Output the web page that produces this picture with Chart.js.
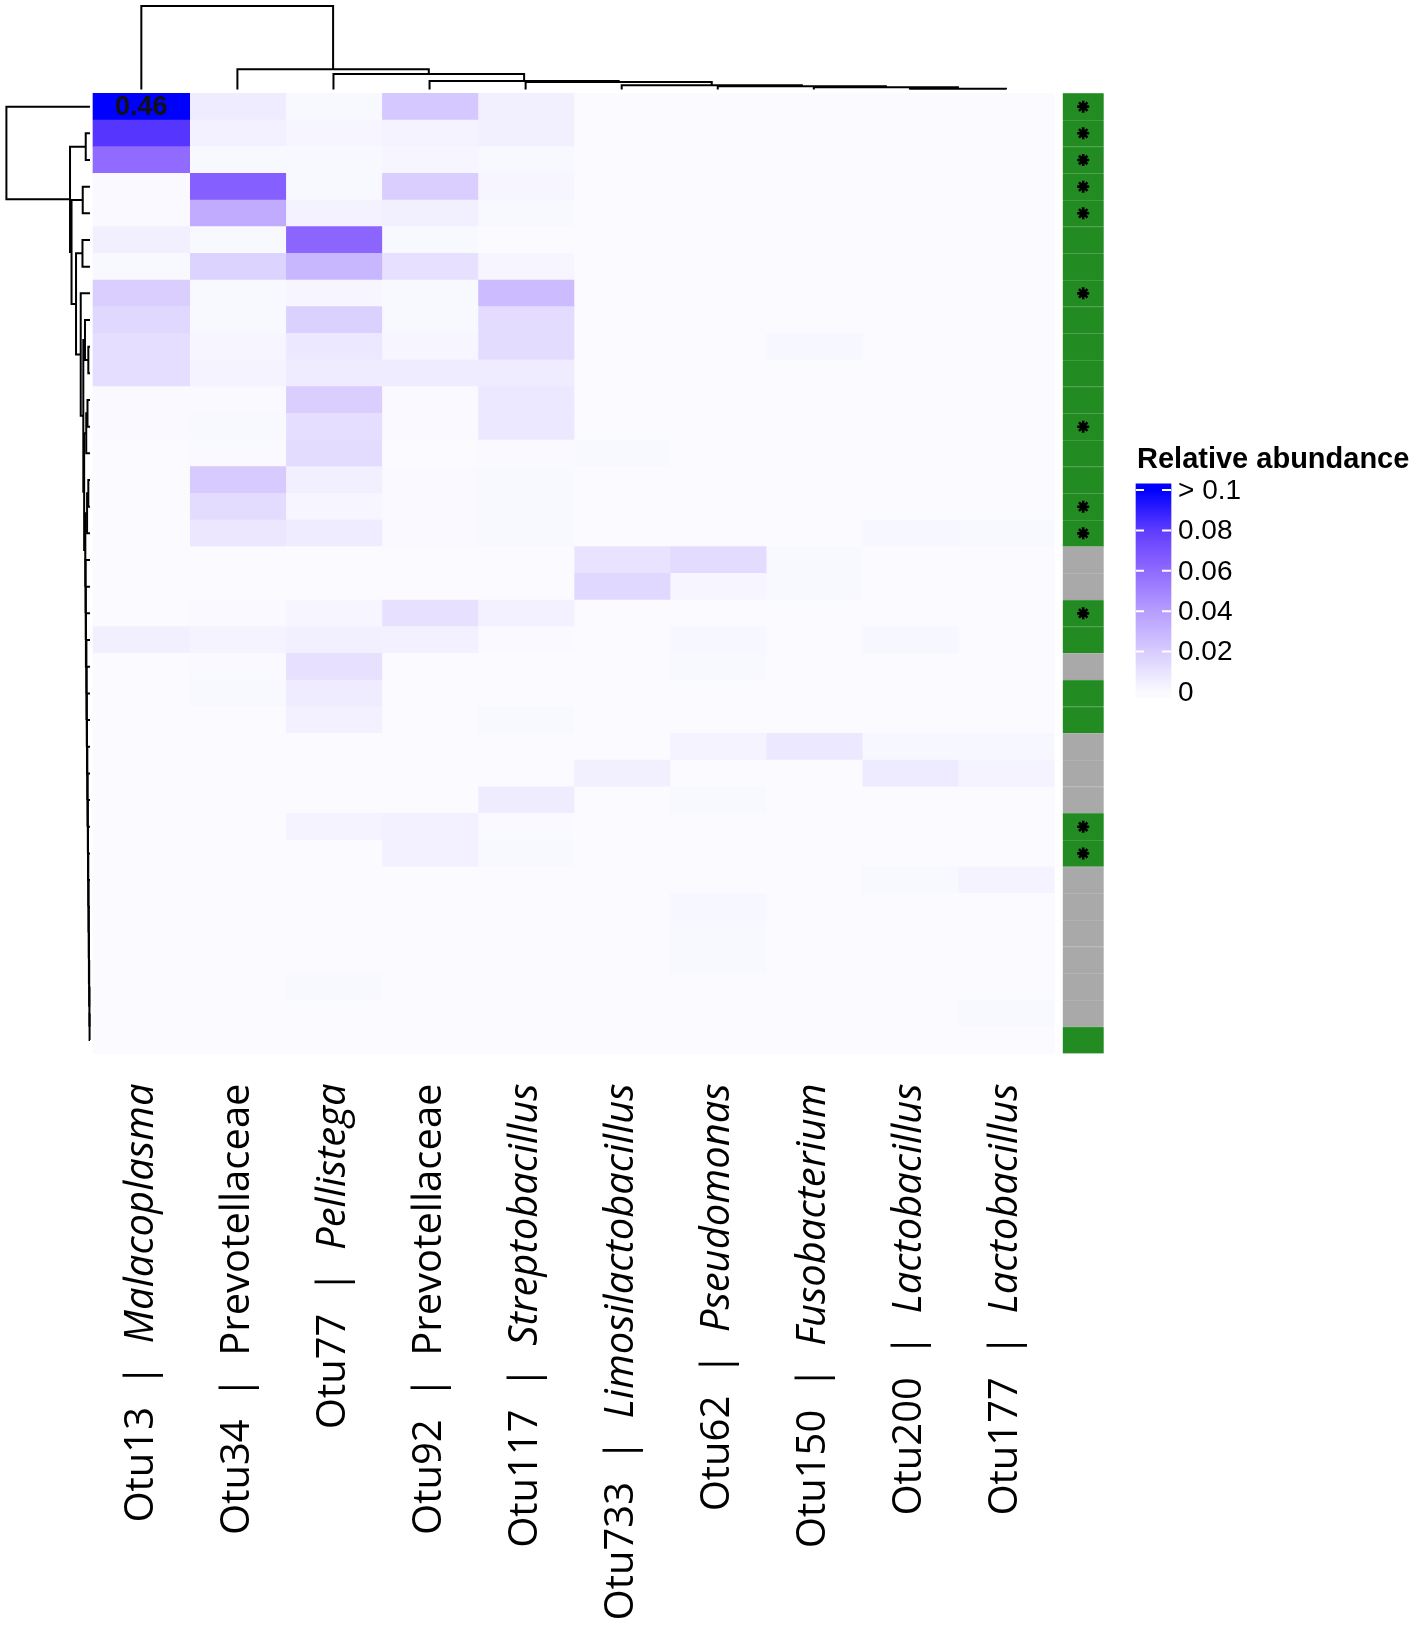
<!DOCTYPE html>
<html>
<head>
<meta charset="utf-8">
<title>Relative abundance heatmap</title>
<script src="https://cdn.jsdelivr.net/npm/chart.js@4.4.1/dist/chart.umd.min.js"></script>
<style>
  html, body { margin: 0; padding: 0; background: #fff; }
  canvas { display: block; }
</style>
</head>
<body>
<canvas id="heatmap" width="1417" height="1625" style="width:1417px;height:1625px"></canvas>
<script>
// ---- data ----
const otuIds = ['Otu13', 'Otu34', 'Otu77', 'Otu92', 'Otu117', 'Otu733', 'Otu62', 'Otu150', 'Otu200', 'Otu177'];
const taxa = ['Malacoplasma', 'Prevotellaceae', 'Pellistega', 'Prevotellaceae', 'Streptobacillus',
              'Limosilactobacillus', 'Pseudomonas', 'Fusobacterium', 'Lactobacillus', 'Lactobacillus'];
const taxonIsGenus = [true, false, true, false, true, true, true, true, true, true];

// relative abundance per OTU, rows 1..36 top to bottom
const otu13  = [0.46, 0.082, 0.060, 0.0005, 0.0005, 0.005, 0.001, 0.019, 0.015, 0.012, 0.012, 0.0005, 0.0005,
                0, 0, 0, 0, 0, 0, 0, 0.005, 0, 0, 0, 0, 0, 0, 0, 0, 0, 0, 0, 0, 0, 0, 0];
const otu34  = [0.006, 0.004, 0.001, 0.065, 0.034, 0.001, 0.017, 0.001, 0.001, 0.002, 0.003, 0.0005, 0.001,
                0.0005, 0.021, 0.013, 0.0085, 0, 0, 0.0005, 0.003, 0.0005, 0.001, 0, 0, 0, 0, 0, 0, 0, 0, 0, 0, 0, 0, 0];
const otu77  = [0.001, 0.002, 0.001, 0.001, 0.0035, 0.062, 0.029, 0.002, 0.018, 0.008, 0.006, 0.019, 0.012,
                0.013, 0.005, 0.002, 0.006, 0, 0, 0.002, 0.0045, 0.011, 0.006, 0.004, 0, 0, 0, 0.003, 0, 0, 0, 0, 0, 0.001, 0, 0];
const otu92  = [0.022, 0.003, 0.002, 0.019, 0.0045, 0.001, 0.011, 0.001, 0.001, 0.002, 0.006, 0.0005, 0.0005,
                0, 0.0005, 0.0005, 0.0005, 0, 0, 0.011, 0.004, 0, 0, 0, 0, 0, 0, 0.004, 0.004, 0, 0, 0, 0, 0, 0, 0];
const otu117 = [0.0045, 0.0045, 0.001, 0.002, 0.001, 0, 0.002, 0.027, 0.013, 0.013, 0.006, 0.008, 0.008,
                0.0005, 0.001, 0.001, 0.001, 0, 0, 0.004, 0.0005, 0, 0, 0.001, 0, 0, 0.006, 0.0005, 0.001, 0, 0, 0, 0, 0, 0, 0];
const otu733 = [0, 0, 0, 0, 0, 0, 0, 0, 0, 0, 0, 0, 0, 0.001, 0, 0, 0, 0.010, 0.015,
                0, 0, 0, 0, 0, 0, 0.005, 0, 0, 0, 0, 0, 0, 0, 0, 0, 0];
const otu62  = [0, 0, 0, 0, 0, 0, 0, 0, 0, 0, 0, 0, 0, 0, 0, 0, 0, 0.013, 0.002,
                0, 0.0015, 0.001, 0, 0, 0.003, 0, 0.001, 0, 0, 0, 0.0015, 0.001, 0.001, 0, 0, 0];
const otu150 = [0, 0, 0, 0, 0, 0, 0, 0, 0, 0.0015, 0, 0, 0, 0, 0, 0, 0, 0.001, 0.001,
                0, 0, 0, 0, 0, 0.008, 0, 0, 0, 0, 0, 0, 0, 0, 0, 0, 0];
const otu200 = [0, 0, 0, 0, 0, 0, 0, 0, 0, 0, 0, 0, 0, 0, 0, 0, 0.0015, 0, 0,
                0, 0.0015, 0, 0, 0, 0.0015, 0.007, 0, 0, 0, 0.001, 0, 0, 0, 0, 0, 0];
const otu177 = [0, 0, 0, 0, 0, 0, 0, 0, 0, 0, 0, 0, 0, 0, 0, 0, 0.001, 0, 0,
                0, 0, 0, 0, 0, 0.0015, 0.003, 0, 0, 0, 0.003, 0, 0, 0, 0, 0.001, 0];
const abundance = [otu13, otu34, otu77, otu92, otu117, otu733, otu62, otu150, otu200, otu177];

// row annotation (1 = green class, 0 = grey class) and rows marked with *
const rowAnnotation = [1, 1, 1, 1, 1, 1, 1, 1, 1, 1, 1, 1, 1, 1, 1, 1, 1, 0, 0, 1, 1, 0, 1, 1, 0, 0, 0, 1, 1,
                       0, 0, 0, 0, 0, 0, 1];
const starredRows = [1, 2, 3, 4, 5, 8, 13, 16, 17, 20, 28, 29];

// column dendrogram, hclust style merges (negative = leaf), heights relative to the root
const colMergeLeft   = [-9, -8, -7, -6, -5, -4, -3, -2, -1];
const colMergeRight  = [-10, 1, 2, 3, 4, 5, 6, 7, 8];
const colMergeHeight = [0.010, 0.026, 0.038, 0.050, 0.090, 0.102, 0.186, 0.242, 1.0];

// row dendrogram
const rowMergeLeft   = [-35, -34, -33, -32, -31, -30, -29, -28, -27, -26, -25, -24, -23, -22, -21, -20, -19, -18,
                        -15, 19, 20, -12, 22, 23, -10, -9, 26, -8, -6, 29, -4, 31, -2, 33, -1];
const rowMergeRight  = [-36, 1, 2, 3, 4, 5, 6, 7, 8, 9, 10, 11, 12, 13, 14, 15, 16, 17,
                        -16, -17, 18, -13, -14, 21, -11, 25, 24, 27, -7, 28, -5, 30, -3, 32, 34];
const rowMergeHeight = [0.005, 0.008, 0.011, 0.013, 0.016, 0.019, 0.022, 0.024, 0.027, 0.031, 0.033, 0.036,
                        0.040, 0.042, 0.044, 0.049, 0.051, 0.054,
                        0.020, 0.035, 0.058, 0.030, 0.045, 0.070, 0.020, 0.060, 0.080, 0.111, 0.090, 0.167,
                        0.087, 0.221, 0.051, 0.239, 1.0];

const legendTicks  = [0.1, 0.08, 0.06, 0.04, 0.02, 0];
const legendLabels = ['> 0.1', '0.08', '0.06', '0.04', '0.02', '0'];

// ---- layout (pixels) ----
const W = 1417, H = 1625;
const HM_LEFT = 93.3, HM_TOP = 93.3, COL_W = 96.07, ROW_H = 26.67;
const ANN_CENTER = 1083.2, ANN_W = 41;
const LEG_CENTER = 1153.5, LEG_W = 35;
const COLOUR_MAX = 0.1;
const colourStops = [
  [0,    [250, 250, 255]],
  [0.02, [216, 204, 255]],
  [0.04, [181, 157, 255]],
  [0.06, [145, 106, 255]],
  [0.08, [95, 60, 255]],
  [0.1,  [0, 0, 255]]
];

function cellColour(v) {
  const t = Math.min(Math.max(v, 0), COLOUR_MAX);
  for (let i = 1; i < colourStops.length; i++) {
    const [v0, c0] = colourStops[i - 1];
    const [v1, c1] = colourStops[i];
    if (t <= v1) {
      const f = (t - v0) / (v1 - v0);
      return 'rgb(' + c0.map((c, k) => Math.round(c + (c1[k] - c) * f)).join(',') + ')';
    }
  }
  return 'rgb(0,0,255)';
}

// linear axis whose value v0 sits at pixel p0 and v1 at p1
function pinnedAxis(axis, v0, p0, v1, p1) {
  const size = axis === 'x' ? W : H;
  const k = (p1 - p0) / (v1 - v0);
  const span = size / Math.abs(k);
  const increasing = k > 0;
  let min, max;
  if (increasing) { min = v0 - p0 / k; max = min + span; }
  else { max = v0 + p0 / -k; min = max - span; }
  return {
    type: 'linear', axis, min, max, bounds: 'data', offset: false, display: false,
    reverse: axis === 'x' ? !increasing : increasing,
    grid: { display: false }, ticks: { display: false }
  };
}

// turn merges into U shaped segments: [leafPos, height] pairs
function dendroSegments(left, right, height) {
  const nodes = [], segs = [];
  const place = id => id < 0 ? { p: -id - 0.5, h: 0 } : nodes[id - 1];
  for (let i = 0; i < left.length; i++) {
    const a = place(left[i]), b = place(right[i]), h = height[i];
    segs.push([[a.p, a.h], [a.p, h], [b.p, h], [b.p, b.h]]);
    nodes.push({ p: (a.p + b.p) / 2, h });
  }
  return segs;
}

const xAnn = (ANN_CENTER - HM_LEFT) / COL_W;
const xLeg = (LEG_CENTER - HM_LEFT) / COL_W;
const nRows = otu13.length;

const datasets = [];

// asterisks
datasets.push({
  type: 'scatter',
  label: 'marked',
  data: starredRows.map(r => ({ x: xAnn, y: r - 0.5 })),
  pointStyle: 'star',
  pointRadius: 6,
  borderColor: '#000',
  backgroundColor: '#000',
  borderWidth: 2.6
});

// column dendrogram
dendroSegments(colMergeLeft, colMergeRight, colMergeHeight).forEach(seg => {
  datasets.push({
    type: 'scatter', showLine: true, yAxisID: 'dCol',
    data: seg.map(([p, h]) => ({ x: p, y: h })),
    borderColor: '#000', borderWidth: 2, pointRadius: 0, tension: 0
  });
});

// row dendrogram
dendroSegments(rowMergeLeft, rowMergeRight, rowMergeHeight).forEach(seg => {
  datasets.push({
    type: 'scatter', showLine: true, xAxisID: 'dRow',
    data: seg.map(([p, h]) => ({ x: h, y: p })),
    borderColor: '#000', borderWidth: 2, pointRadius: 0, tension: 0
  });
});

// heatmap cells, one dataset per OTU column
abundance.forEach((col, c) => {
  datasets.push({
    type: 'bar',
    label: otuIds[c],
    data: col.map((v, r) => ({ x: c + 0.5, y: [r, r + 1], v })),
    backgroundColor: col.map(cellColour),
    borderWidth: 0,
    grouped: false,
    barThickness: COL_W + 0.6
  });
});

// annotation strip
datasets.push({
  type: 'bar',
  label: 'annotation',
  data: rowAnnotation.map((a, r) => ({ x: xAnn, y: [r, r + 1] })),
  backgroundColor: rowAnnotation.map(a => a ? '#228b22' : '#a9a9a9'),
  borderColor: rowAnnotation.map(a => a ? '#4d9f4d' : '#b4b4b4'),
  borderWidth: { top: 1, right: 0, bottom: 0, left: 0 },
  borderSkipped: false,
  grouped: false,
  barThickness: ANN_W
});

// colour key
datasets.push({
  type: 'bar',
  label: 'key',
  yAxisID: 'yLeg',
  data: [{ x: xLeg, y: [-0.0025, 0.103] }],
  backgroundColor(context) {
    const chart = context.chart;
    if (!chart.chartArea) return '#fff';
    const s = chart.scales.yLeg;
    const g = chart.ctx.createLinearGradient(0, s.getPixelForValue(0), 0, s.getPixelForValue(COLOUR_MAX));
    colourStops.forEach(([v, rgb]) => g.addColorStop(v / COLOUR_MAX, 'rgb(' + rgb.join(',') + ')'));
    return g;
  },
  borderWidth: 0,
  grouped: false,
  barThickness: LEG_W
});

const textPlugin = {
  id: 'heatmapText',
  afterDatasetsDraw(chart) {
    const { ctx, scales } = chart;
    ctx.save();

    // values above the colour ceiling are printed in the cell
    ctx.fillStyle = '#111';
    ctx.font = 'bold 27px "Liberation Sans", Arial, sans-serif';
    ctx.textAlign = 'center';
    ctx.textBaseline = 'middle';
    abundance.forEach((col, c) => col.forEach((v, r) => {
      if (v > COLOUR_MAX) {
        ctx.fillText(v.toFixed(2), scales.x.getPixelForValue(c + 0.5), scales.y.getPixelForValue(r + 0.5) + 1);
      }
    }));

    // rotated column labels, end of text aligned under the heatmap
    const labelTop = scales.y.getPixelForValue(nRows) + 30;
    const regular = '40px "Open Sans", sans-serif';
    const italic = 'italic 40px "Open Sans", sans-serif';
    ctx.fillStyle = '#000';
    otuIds.forEach((id, c) => {
      ctx.save();
      ctx.translate(scales.x.getPixelForValue(c + 0.5), labelTop);
      ctx.rotate(-Math.PI / 2);
      ctx.textAlign = 'right';
      ctx.textBaseline = 'middle';
      if (taxonIsGenus[c]) {
        ctx.font = italic;
        const gw = ctx.measureText(taxa[c]).width;
        ctx.fillText(taxa[c], 0, 0);
        ctx.font = regular;
        ctx.fillText(id + '  |  ', -gw, 0);
      } else {
        ctx.font = regular;
        ctx.fillText(id + '  |  ' + taxa[c], 0, 0);
      }
      ctx.restore();
    });

    // colour key title, tick dashes and labels
    const kx0 = LEG_CENTER - LEG_W / 2, kx1 = LEG_CENTER + LEG_W / 2;
    ctx.textAlign = 'left';
    ctx.textBaseline = 'alphabetic';
    ctx.font = 'bold 29px "Liberation Sans", Arial, sans-serif';
    ctx.fillText('Relative abundance', kx0 + 1, scales.yLeg.getPixelForValue(0.1) - 22);
    ctx.strokeStyle = '#fff';
    ctx.lineWidth = 2;
    ctx.font = '28px "Liberation Sans", Arial, sans-serif';
    ctx.textBaseline = 'middle';
    legendTicks.forEach((t, i) => {
      const y = scales.yLeg.getPixelForValue(t);
      if (t > 0) {
        ctx.beginPath();
        ctx.moveTo(kx0, y); ctx.lineTo(kx0 + 8, y);
        ctx.moveTo(kx1 - 9, y); ctx.lineTo(kx1, y);
        ctx.stroke();
      }
      ctx.fillStyle = '#000';
      ctx.fillText(legendLabels[i], kx1 + 7, y + 1);
    });
    ctx.restore();
  }
};

new Chart(document.getElementById('heatmap'), {
  type: 'bar',
  data: { datasets },
  options: {
    responsive: false,
    animation: false,
    events: [],
    layout: { padding: 0, autoPadding: false },
    plugins: { legend: { display: false }, tooltip: { enabled: false }, title: { display: false } },
    scales: {
      x: pinnedAxis('x', 0, HM_LEFT, 1, HM_LEFT + COL_W),
      y: pinnedAxis('y', 0, HM_TOP, 1, HM_TOP + ROW_H),
      dCol: pinnedAxis('y', 0, 89.5, 1, 6),
      dRow: pinnedAxis('x', 0, 90, 1, 6.4),
      yLeg: pinnedAxis('y', 0, 692, 0.1, 490)
    }
  },
  plugins: [textPlugin]
});
</script>
</body>
</html>
